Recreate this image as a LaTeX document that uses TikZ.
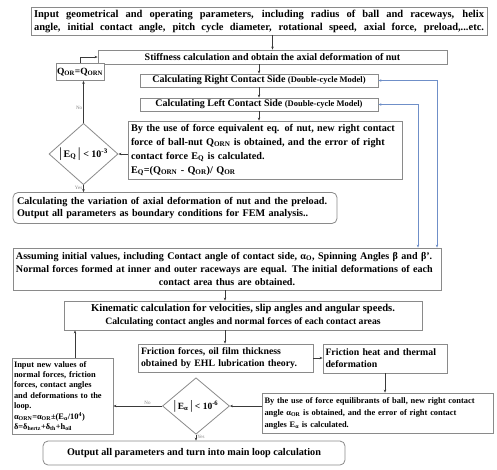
\documentclass[tikz,border=0pt]{standalone}
\usepackage{fontspec}
\setmainfont{Liberation Serif}
\usetikzlibrary{shapes.geometric,arrows.meta}
\definecolor{boxgray}{HTML}{8A8A8A}
\definecolor{linegray}{HTML}{3A3A3A}
\definecolor{loopblue}{HTML}{6F8FC8}
\newcommand{\fs}[2]{\fontsize{#1}{#2}\selectfont}
\newcommand{\js}[2]{\makebox[#1][s]{#2}}
\tikzset{
  box/.style={draw=boxgray, line width=0.8pt, inner sep=0pt, align=center, fill=white},
  rbox/.style={box, rounded corners=5pt},
  dia/.style={draw=boxgray, line width=0.8pt, diamond, inner sep=0pt, fill=white},
  arr/.style={draw=linegray, line width=0.6pt, -{Stealth[length=3pt,width=2.5pt]}},
  barr/.style={draw=loopblue, line width=0.6pt, {Stealth[length=3pt,width=2.5pt]}-{Stealth[length=3pt,width=2.5pt]}},
  lbl/.style={font=\fs{5}{6}, text=gray, inner sep=1pt}
}
\begin{document}
\begin{tikzpicture}[x=1pt,y=-1pt]
\useasboundingbox (0,0) rectangle (497,469);

\node[box, minimum width=456pt, minimum height=28pt, font=\bfseries\fs{10.5}{13}] (top) at (259,21)
 {\js{450pt}{Input geometrical and operating parameters, including radius of ball and raceways, helix}\\
  \js{450pt}{angle, initial contact angle, pitch cycle diameter, rotational speed, axial force, preload,...etc.}};

\node[box, minimum width=349pt, minimum height=14pt, font=\bfseries\fs{10}{12}] (stiff) at (272.5,57)
 {Stiffness calculation and obtain the axial deformation of nut};

\node[box, minimum width=48pt, minimum height=17pt, font=\bfseries\fs{9.5}{11}] (q) at (80,72)
 {Q\textsubscript{OR}=Q\textsubscript{ORN}};

\node[box, minimum width=238pt, minimum height=13pt, font=\bfseries\fs{10}{12}] (right) at (259,80.5)
 {Calculating Right Contact Side {\fs{8.5}{10}(Double-cycle Model)}};

\node[box, minimum width=238pt, minimum height=13pt, font=\bfseries\fs{10}{12}] (left) at (259,104.5)
 {Calculating Left Contact Side {\fs{8.5}{10}(Double-cycle Model)}};

\node[box, minimum width=274pt, minimum height=58pt, font=\bfseries\fs{10.2}{14}, text width=268pt, align=left] (feq) at (265,150)
 {\js{268pt}{By the use of force equivalent eq. of nut, new right contact}\\
  \js{268pt}{force of ball-nut Q\textsubscript{ORN} is obtained, and the error of right}\\
  contact force E\textsubscript{Q} is calculated.\\
  E\textsubscript{Q}=(Q\textsubscript{ORN} - Q\textsubscript{OR})/ Q\textsubscript{OR}};

\node[dia, minimum width=69pt, minimum height=52pt, font=\bfseries\fs{10}{11}] (d1) at (83.5,154)
 {{\fs{14}{14}\textmd{|}}\,E\textsubscript{Q}\,{\fs{14}{14}\textmd{|}} < 10\textsuperscript{-3}};

\node[rbox, minimum width=324pt, minimum height=31pt, font=\bfseries\fs{10.2}{12.5}, text width=316pt, align=left] (out1) at (175,208)
 {Calculating the variation of axial deformation of nut and the preload.\\
  Output all parameters as boundary conditions for FEM analysis..};

\node[box, minimum width=428pt, minimum height=42pt, font=\bfseries\fs{10.1}{13}, text width=422pt] (assume) at (227,269)
 {\js{422pt}{Assuming initial values, including Contact angle of contact side, α\textsubscript{O}, Spinning Angles β and β'.}\\
  \js{422pt}{Normal forces formed at inner and outer raceways are equal. The initial deformations of each}\\
  contact area thus are obtained.};

\node[box, minimum width=358pt, minimum height=29pt, font=\bfseries\fs{9.7}{13}] (kin) at (243,315.5)
 {{\fs{10.6}{13}Kinematic calculation for velocities, slip angles and angular speeds.}\\
  Calculating contact angles and normal forces of each contact areas};

\node[box, minimum width=175pt, minimum height=28pt, font=\bfseries\fs{9.8}{11.5}, text width=169pt, align=left] (fric) at (225.5,358)
 {\js{169pt}{Friction forces, oil film thickness}\\
  obtained by EHL lubrication theory.};

\node[box, minimum width=124pt, minimum height=29pt, font=\bfseries\fs{9.8}{12}, text width=119pt, align=left] (heat) at (385,358.5)
 {Friction heat and thermal\\ deformation};

\node[box, minimum width=231pt, minimum height=40pt, font=\bfseries\fs{8.4}{12}, text width=226pt, align=left] (eqb) at (377.5,413)
 {\js{226pt}{By the use of force equilibrants of ball, new right contact}\\
  \js{226pt}{angle α\textsubscript{OR} is obtained, and the error of right contact}\\
  angles E\textsubscript{α} is calculated.};

\node[dia, minimum width=67pt, minimum height=42pt, font=\bfseries\fs{9.5}{11}] (d2) at (196,406)
 {{\fs{13}{13}\textmd{|}}\,E\textsubscript{α}\,{\fs{13}{13}\textmd{|}} < 10\textsuperscript{-6}};

\node[box, minimum width=101pt, minimum height=76pt, font=\bfseries\fs{8.4}{10.4}, text width=97pt, align=left] (inp) at (62.5,396)
 {Input new values of\\
  normal forces, friction\\
  forces, contact angles\\
  and deformations to the\\
  loop.\\
  α\textsubscript{ORN}=α\textsubscript{OR}±(E\textsubscript{α}/10\textsuperscript{4})\\
  δ=δ\textsubscript{hertz}+δ\textsubscript{th}+h\textsubscript{oil}};

\node[rbox, minimum width=302pt, minimum height=24pt, font=\bfseries\fs{10.2}{12}] (out2) at (194,453)
 {Output all parameters and turn into main loop calculation};

% connectors
\draw[arr] (top.south -| stiff.north) -- (stiff.north);
\draw[arr] (right.north |- stiff.south) -- (right.north);
\draw[arr] (right.south) -- (left.north);
\draw[arr] (left.south) -- (left.south |- feq.north);
\draw[arr] (feq.west |- d1.east) -- (d1.east);
\draw[arr] (d1.north) -- node[lbl, left, pos=0.35] {No} (q.south -| d1.north);
\draw[arr] (q.north) |- (stiff.west);
\draw[arr] (d1.south) -- node[lbl, left, pos=0.45] {Yes} (d1.south |- out1.north);

\coordinate (b1) at (437,80.5);
\coordinate (b2) at (418,104.5);
\draw[barr] (right.east) -- (b1) -- (b1 |- assume.north);
\draw[barr] (left.east) -- (b2) -- (b2 |- assume.north);

\draw[arr] (assume.south -| 225,0) -- (kin.north -| 225,0);
\draw[arr] (kin.south -| 225,0) -- (fric.north -| 225,0);
\draw[arr] (fric.east) -- (fric.east -| heat.west);
\draw[arr] (heat.south) -- (heat.south |- eqb.north);
\draw[arr] (d2.east -| eqb.west) -- (d2.east);
\draw[arr] (d2.west) -- node[lbl, above, pos=0.3] {No} (d2.west -| inp.east);
\draw[arr] (inp.north -| 75,0) -- (kin.south -| 75,0);
\draw[arr] (d2.south) -- node[lbl, right, pos=0.4] {Yes} (d2.south |- out2.north);
\end{tikzpicture}
\end{document}
